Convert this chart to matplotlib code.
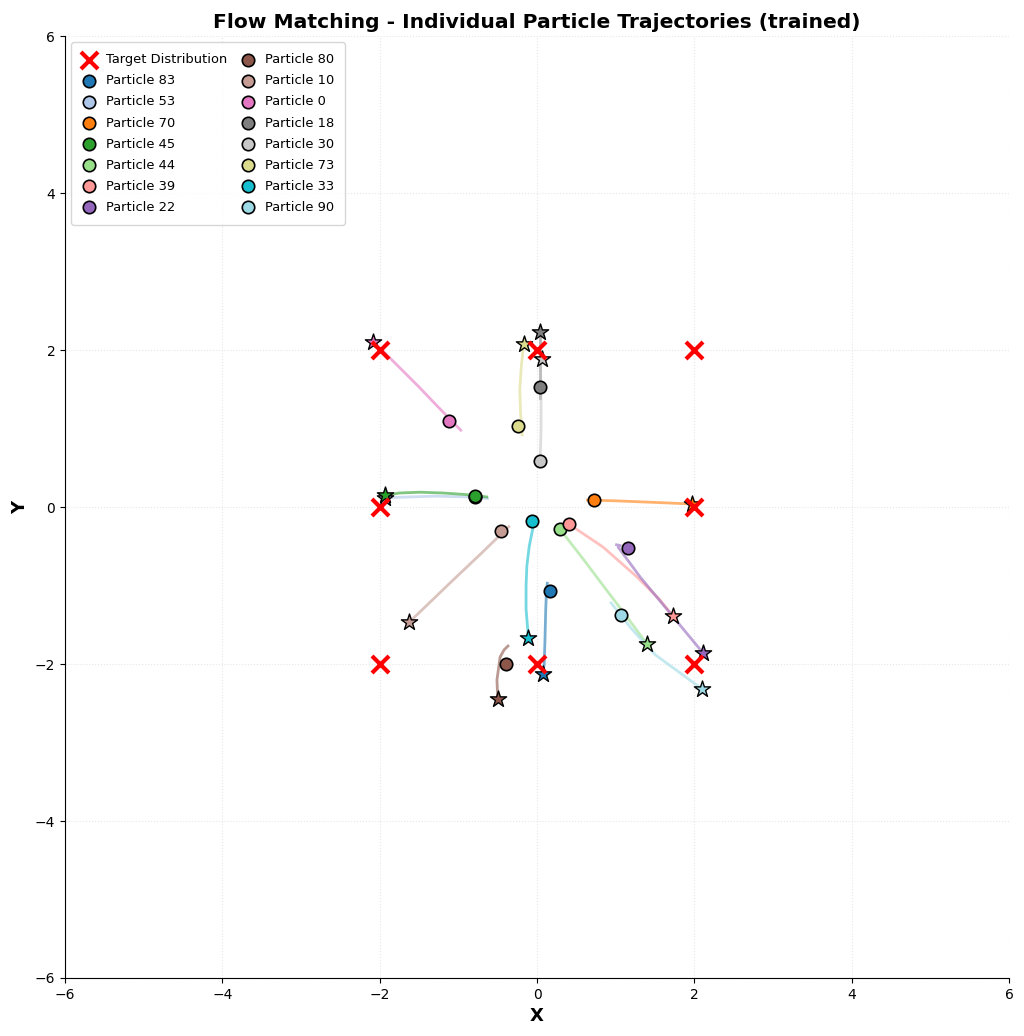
"""
Flow matching trajectories of a few particles toward the 8-point target
"""
import matplotlib.pyplot as plt
import numpy as np

# target distribution (8 points on a square ring)
target_x = [-2, 0, 2, -2, 2, -2, 0, 2]
target_y = [2, 2, 2, 0, 0, -2, -2, -2]

particle_ids = [83, 53, 70, 45, 44, 39, 22, 80, 10, 0, 18, 30, 73, 33, 90]

# trajectory points (line start ... end)
traj_x = [
    [0.13, 0.12, 0.11, 0.10, 0.09, 0.07],
    [-0.63, -0.90, -1.30, -1.60, -1.93],
    [0.64, 1.00, 1.50, 1.97],
    [-0.64, -0.90, -1.20, -1.49, -1.75, -1.93],
    [0.29, 0.60, 0.90, 1.15, 1.40],
    [0.41, 0.84, 1.27, 1.56, 1.73],
    [1.01, 1.06, 1.03, 1.31, 1.69, 2.11],
    [-0.37, -0.42, -0.47, -0.51, -0.50],
    [-0.36, -0.70, -1.10, -1.40, -1.63],
    [-0.97, -1.30, -1.50, -1.80, -2.08],
    [0.04, 0.04, 0.04, 0.04],
    [0.04, 0.05, 0.05, 0.04, 0.06],
    [-0.19, -0.21, -0.22, -0.20, -0.17],
    [-0.05, -0.10, -0.13, -0.14, -0.14, -0.11],
    [0.94, 1.20, 1.50, 1.80, 2.10],
]
traj_y = [
    [-0.97, -1.05, -1.30, -1.70, -2.00, -2.13],
    [0.11, 0.13, 0.14, 0.13, 0.12],
    [0.09, 0.08, 0.06, 0.04],
    [0.13, 0.16, 0.18, 0.19, 0.18, 0.15],
    [-0.28, -0.68, -1.08, -1.41, -1.75],
    [-0.22, -0.51, -0.89, -1.18, -1.39],
    [-0.48, -0.49, -0.51, -0.89, -1.35, -1.86],
    [-1.77, -1.82, -1.91, -2.20, -2.45],
    [-0.25, -0.58, -0.96, -1.25, -1.47],
    [0.98, 1.32, 1.53, 1.83, 2.11],
    [1.39, 1.60, 1.90, 2.23],
    [0.62, 1.00, 1.53, 1.75, 1.89],
    [0.92, 1.20, 1.50, 1.80, 2.08],
    [-0.25, -0.50, -0.75, -1.00, -1.30, -1.67],
    [-1.22, -1.55, -1.88, -2.10, -2.32],
]

# starting markers (circles)
start_x = [0.165, -0.79, 0.72, -0.79, 0.29, 0.41, 1.16, -0.39, -0.46, -1.12,
           0.04, 0.04, -0.24, -0.06, 1.07]
start_y = [-1.07, 0.13, 0.09, 0.14, -0.28, -0.22, -0.52, -2.00, -0.31, 1.10,
           1.53, 0.59, 1.03, -0.18, -1.38]

colors = plt.cm.tab20(np.linspace(0, 1, len(particle_ids)))

fig = plt.figure(figsize=(10.24, 10.36), dpi=100)
ax = fig.add_axes([0.0635, 0.056, 0.922, 0.909])

ax.scatter(target_x, target_y, c="red", marker="x", s=150, linewidths=3,
           label="Target Distribution", zorder=5)

for i, pid in enumerate(particle_ids):
    ax.plot(traj_x[i], traj_y[i], color=colors[i], alpha=0.6, linewidth=2, zorder=2)
    ax.scatter(start_x[i], start_y[i], color=colors[i], s=80, edgecolors="black",
               linewidths=1.2, label=f"Particle {pid}", zorder=4)
    ax.scatter(traj_x[i][-1], traj_y[i][-1], color=colors[i], marker="*", s=150,
               edgecolors="black", linewidths=1.0, zorder=4)

ax.set_xlim(-6, 6)
ax.set_ylim(-6, 6)
ax.set_xlabel("X", fontsize=13, fontweight="bold", labelpad=4)
ax.set_ylabel("Y", fontsize=13, fontweight="bold")
ax.set_title("Flow Matching - Individual Particle Trajectories (trained)",
             fontsize=14.6, fontweight="bold")
ax.grid(True, linestyle=":", alpha=0.3)
ax.spines["top"].set_visible(False)
ax.spines["right"].set_visible(False)
ax.legend(loc="upper left", ncol=2, fontsize=9.4, borderpad=0.85,
          handlelength=1.1, handletextpad=0.75, columnspacing=1.0,
          labelspacing=0.62, borderaxespad=0.45)

fig.savefig("out.png", dpi=100)
